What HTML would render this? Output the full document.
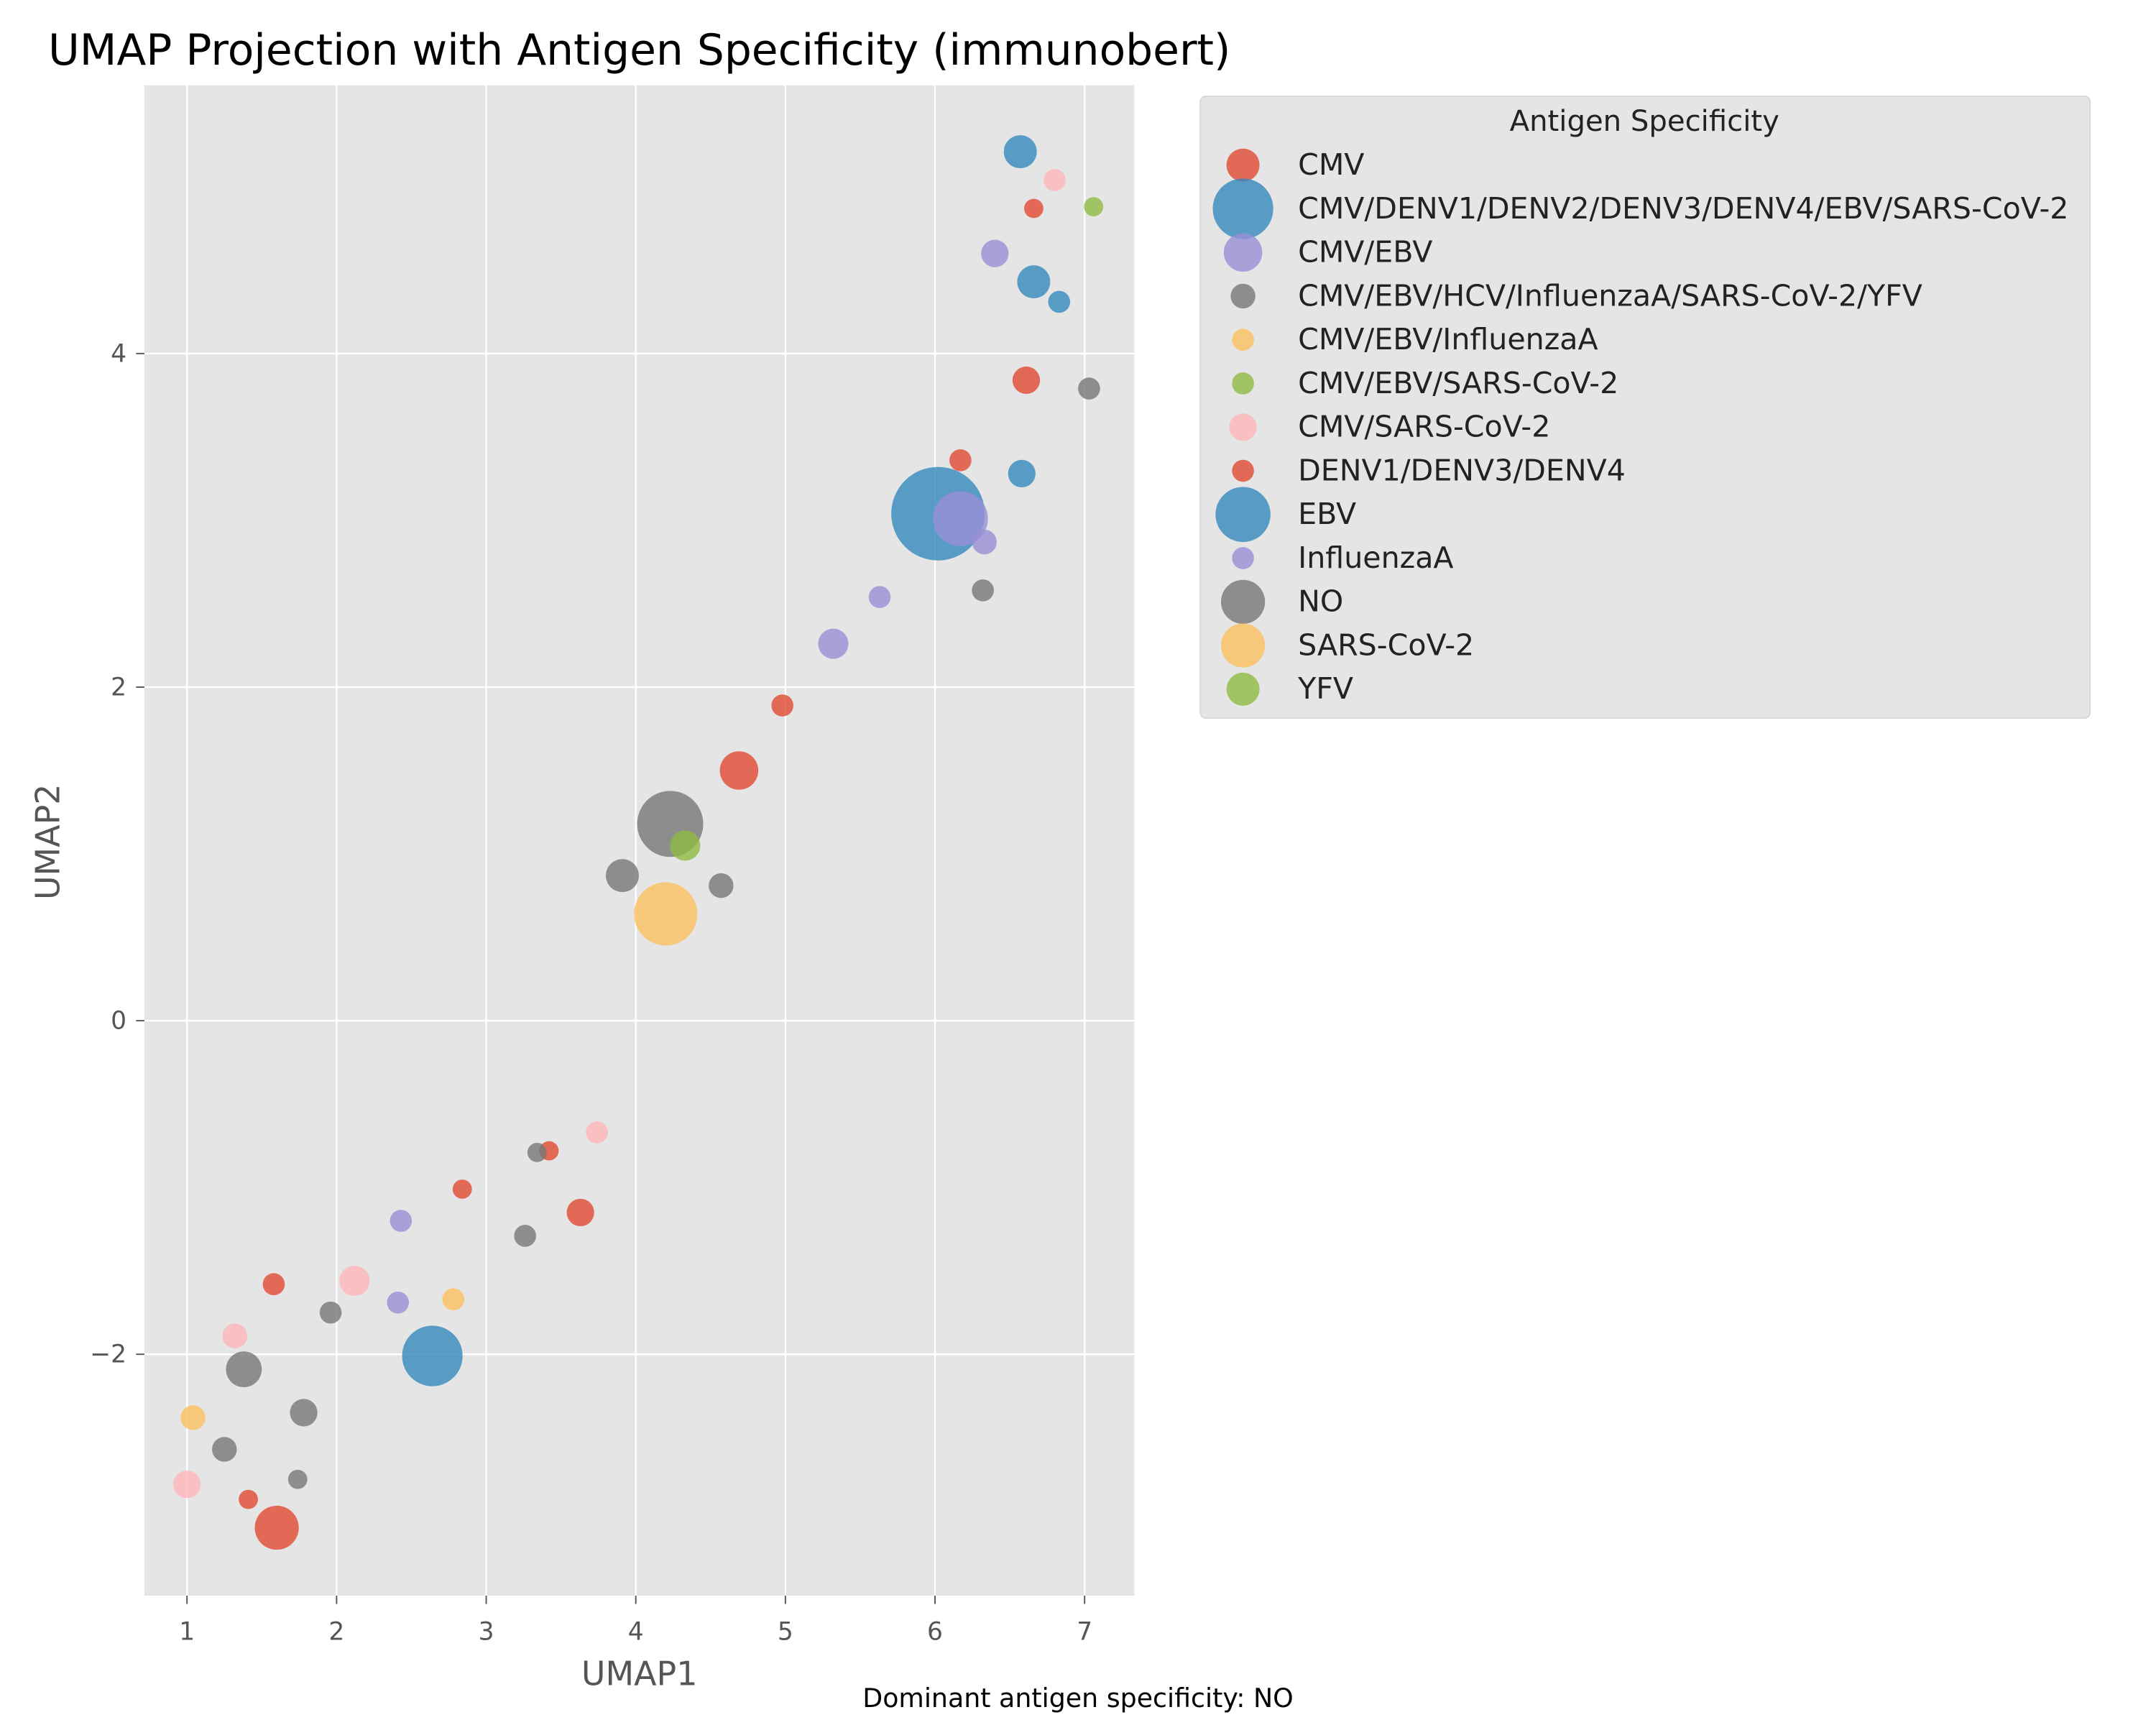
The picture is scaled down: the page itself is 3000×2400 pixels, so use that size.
<!DOCTYPE html>
<html><head><meta charset="utf-8"><style>
html,body{margin:0;padding:0;background:#fff;}
svg{display:block;font-family:"DejaVu Sans","Liberation Sans",sans-serif;}
</style></head><body>
<svg id="chart" width="3000" height="2400" viewBox="0 0 1568 1254" preserveAspectRatio="none">
<rect x="0" y="0" width="1568" height="1254" fill="#ffffff"/>
<text x="35" y="47" font-size="31" fill="#000" textLength="860" lengthAdjust="spacingAndGlyphs">UMAP Projection with Antigen Specificity (immunobert)</text>
<rect x="105" y="62" width="720" height="1098" fill="#E5E5E5"/>
<g id="grid"></g>
<g id="points"></g>
<g id="axes"></g>
<text x="465" y="1225" font-size="24" fill="#555" text-anchor="middle">UMAP1</text>
<text x="0" y="0" font-size="24" fill="#555" text-anchor="middle" transform="translate(43,612) rotate(-90)">UMAP2</text>
<text x="784" y="1241" font-size="19" fill="#000" text-anchor="middle">Dominant antigen specificity: NO</text>
<g id="legend">
<rect x="873" y="70" width="647" height="452" rx="4" fill="#E5E5E5" stroke="#d8d8d8" stroke-width="1"/>
<text x="1196" y="95" font-size="21" fill="#222" text-anchor="middle">Antigen Specificity</text>
</g>
</svg>
<script>
const categories=["CMV","CMV/DENV1/DENV2/DENV3/DENV4/EBV/SARS-CoV-2","CMV/EBV","CMV/EBV/HCV/InfluenzaA/SARS-CoV-2/YFV","CMV/EBV/InfluenzaA","CMV/EBV/SARS-CoV-2","CMV/SARS-CoV-2","DENV1/DENV3/DENV4","EBV","InfluenzaA","NO","SARS-CoV-2","YFV"];
const catColors=["#E24A33","#348ABD","#988ED5","#777777","#FBC15E","#8EBA42","#FFB5B8","#E24A33","#348ABD","#988ED5","#777777","#FBC15E","#8EBA42"];
const legendSizes=[12,22,14,9,8,8,10,8,20,8,16,16,12];
const xTicks=[1,2,3,4,5,6,7];
const yTicks=[-2,0,2,4];
const ptX=[6.57,6.80,7.06,6.66,6.40,6.66,6.83,6.61,7.03,6.17,6.58,6.02,6.17,6.33,6.32,5.63,5.32,4.98,4.69,4.23,4.33,3.91,4.57,4.20,3.74,3.42,3.34,2.84,3.63,2.43,3.26,2.12,1.58,2.41,2.78,1.96,1.32,2.64,1.38,1.78,1.04,1.25,1.00,1.74,1.41,1.60];
const ptY=[5.21,5.04,4.88,4.87,4.60,4.43,4.31,3.84,3.79,3.36,3.28,3.04,3.01,2.87,2.58,2.54,2.26,1.89,1.50,1.18,1.05,0.87,0.81,0.64,-0.67,-0.78,-0.79,-1.01,-1.15,-1.20,-1.29,-1.56,-1.58,-1.69,-1.67,-1.75,-1.89,-2.01,-2.09,-2.35,-2.38,-2.57,-2.78,-2.75,-2.87,-3.04];
const ptSize=[12,8,7,7,10,12,8,10,8,8,10,34,20,9,8,8,11,8,14,24,11,12,9,23,8,7,7,7,10,8,8,11,8,8,8,8,9,22,13,10,9,9,10,7,7,16];
const ptCat=[8,6,5,7,2,8,8,0,3,7,8,1,2,2,3,9,2,7,0,10,12,10,3,11,6,7,3,7,0,9,3,6,7,9,4,3,6,8,10,10,4,3,6,3,7,0];

const NS="http://www.w3.org/2000/svg";
const X0=1,PX0=136,PXU=108.8,PY0=742,PYU=121.25;
function sx(v){return PX0+(v-X0)*PXU;}
function sy(v){return PY0-v*PYU;}
function mk(tag,attrs,parent){const e=document.createElementNS(NS,tag);for(const k in attrs)e.setAttribute(k,attrs[k]);parent.appendChild(e);return e;}
const grid=document.getElementById('grid'),axes=document.getElementById('axes'),pts=document.getElementById('points'),leg=document.getElementById('legend');
xTicks.forEach(t=>{
 const l=mk('line',{x1:sx(t),x2:sx(t),y1:62,y2:1160,stroke:'#fff','stroke-width':1.2},grid);
 
 
 mk('line',{x1:sx(t),x2:sx(t),y1:1160,y2:1166,stroke:'#555','stroke-width':1},axes);
 const tx=mk('text',{x:sx(t),y:1192,'font-size':18,fill:'#555','text-anchor':'middle'},axes);
 tx.textContent=t;
 
 
});
yTicks.forEach(t=>{
 const l=mk('line',{x1:105,x2:825,y1:sy(t),y2:sy(t),stroke:'#fff','stroke-width':1.2},grid);
 
 
 mk('line',{x1:99,x2:105,y1:sy(t),y2:sy(t),stroke:'#555','stroke-width':1},axes);
 const tx=mk('text',{x:92,y:sy(t)+6,'font-size':18,fill:'#555','text-anchor':'end'},axes);
 tx.textContent=t<0?'\u2212'+Math.abs(t):t;
 
 
});
ptX.forEach((v,i)=>{
 const c=mk('circle',{cx:sx(v),cy:sy(ptY[i]),r:ptSize[i],fill:catColors[ptCat[i]],'fill-opacity':0.8},pts);
 
 
});
categories.forEach((c,i)=>{
 const y=120+31.75*i;
 const g=mk('g',{},leg);
 
 
 mk('circle',{cx:904,cy:y,r:legendSizes[i],fill:catColors[i],'fill-opacity':0.8},g);
 const t=mk('text',{x:944,y:y+7,'font-size':21.5,fill:'#222'},g);
 t.textContent=c;
});
</script>
</body></html>
